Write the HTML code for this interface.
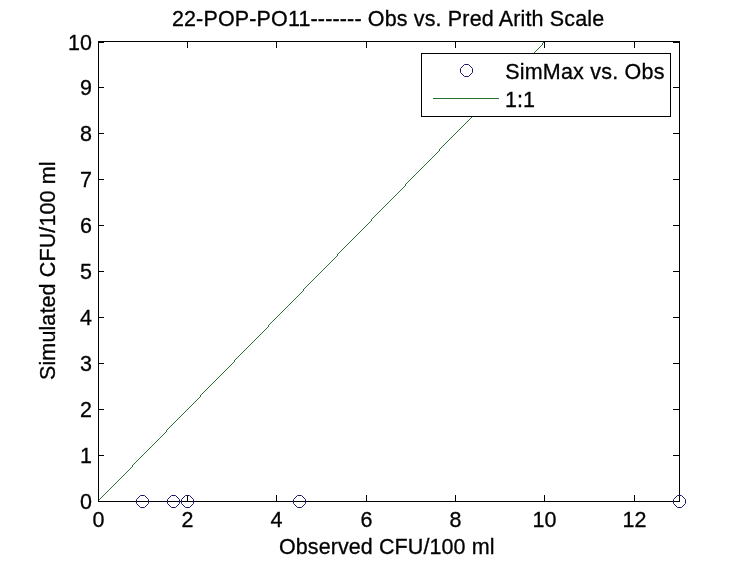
<!DOCTYPE html>
<html><head><meta charset="utf-8"><title>22-POP-PO11 Obs vs. Pred Arith Scale</title>
<style>html,body{margin:0;padding:0;background:#fff;overflow:hidden}svg{display:block}text{font-family:"Liberation Sans",Arial,Helvetica,sans-serif;font-size:21.5px;fill:#000;stroke:#000;stroke-width:0.3px}.ax{stroke:#000;stroke-width:1;fill:none;shape-rendering:crispEdges}.gl{stroke:#2a7030;stroke-width:1;fill:none;shape-rendering:crispEdges}.dg{stroke:#2b7033;stroke-width:1;fill:none;shape-rendering:crispEdges}.mk{stroke:#17176f;stroke-width:1;fill:none}</style></head><body>
<svg width="750" height="563" viewBox="0 0 750 563">
<rect x="0" y="0" width="750" height="563" fill="#ffffff"/>
<path class="dg" d="M98 501.5h1M98 500.5h1M99 499.5h1M100 498.5h1M101 497.5h1M102 496.5h1M103 495.5h1M104 494.5h1M105 493.5h1M106 492.5h1M107 491.5h1M108 490.5h1M109 489.5h1M110 488.5h1M111 487.5h1M112 486.5h1M113 485.5h1M114 484.5h1M115 483.5h1M116 482.5h1M117 481.5h1M118 480.5h1M119 479.5h1M120 478.5h1M121 477.5h1M122 476.5h1M123 475.5h1M124 474.5h1M125 473.5h1M126 472.5h1M127 471.5h1M128 470.5h1M129 469.5h1M130 468.5h1M131 467.5h1M132 466.5h1M132 465.5h1M133 464.5h1M134 463.5h1M135 462.5h1M136 461.5h1M137 460.5h1M138 459.5h1M139 458.5h1M140 457.5h1M141 456.5h1M142 455.5h1M143 454.5h1M144 453.5h1M145 452.5h1M146 451.5h1M147 450.5h1M148 449.5h1M149 448.5h1M150 447.5h1M151 446.5h1M152 445.5h1M153 444.5h1M154 443.5h1M155 442.5h1M156 441.5h1M157 440.5h1M158 439.5h1M159 438.5h1M160 437.5h1M161 436.5h1M162 435.5h1M163 434.5h1M164 433.5h1M165 432.5h1M166 431.5h1M166 430.5h1M167 429.5h1M168 428.5h1M169 427.5h1M170 426.5h1M171 425.5h1M172 424.5h1M173 423.5h1M174 422.5h1M175 421.5h1M176 420.5h1M177 419.5h1M178 418.5h1M179 417.5h1M180 416.5h1M181 415.5h1M182 414.5h1M183 413.5h1M184 412.5h1M185 411.5h1M186 410.5h1M187 409.5h1M188 408.5h1M189 407.5h1M190 406.5h1M191 405.5h1M192 404.5h1M193 403.5h1M194 402.5h1M195 401.5h1M196 400.5h1M197 399.5h1M198 398.5h1M199 397.5h1M200 396.5h1M200 395.5h1M201 394.5h1M202 393.5h1M203 392.5h1M204 391.5h1M205 390.5h1M206 389.5h1M207 388.5h1M208 387.5h1M209 386.5h1M210 385.5h1M211 384.5h1M212 383.5h1M213 382.5h1M214 381.5h1M215 380.5h1M216 379.5h1M217 378.5h1M218 377.5h1M219 376.5h1M220 375.5h1M221 374.5h1M222 373.5h1M223 372.5h1M224 371.5h1M225 370.5h1M226 369.5h1M227 368.5h1M228 367.5h1M229 366.5h1M230 365.5h1M231 364.5h1M232 363.5h1M233 362.5h1M234 361.5h1M234 360.5h1M235 359.5h1M236 358.5h1M237 357.5h1M238 356.5h1M239 355.5h1M240 354.5h1M241 353.5h1M242 352.5h1M243 351.5h1M244 350.5h1M245 349.5h1M246 348.5h1M247 347.5h1M248 346.5h1M249 345.5h1M250 344.5h1M251 343.5h1M252 342.5h1M253 341.5h1M254 340.5h1M255 339.5h1M256 338.5h1M257 337.5h1M258 336.5h1M259 335.5h1M260 334.5h1M261 333.5h1M262 332.5h1M263 331.5h1M264 330.5h1M265 329.5h1M266 328.5h1M267 327.5h1M268 326.5h1M268 325.5h1M269 324.5h1M270 323.5h1M271 322.5h1M272 321.5h1M273 320.5h1M274 319.5h1M275 318.5h1M276 317.5h1M277 316.5h1M278 315.5h1M279 314.5h1M280 313.5h1M281 312.5h1M282 311.5h1M283 310.5h1M284 309.5h1M285 308.5h1M286 307.5h1M287 306.5h1M288 305.5h1M289 304.5h1M290 303.5h1M291 302.5h1M292 301.5h1M293 300.5h1M294 299.5h1M295 298.5h1M296 297.5h1M297 296.5h1M298 295.5h1M299 294.5h1M300 293.5h1M301 292.5h1M302 291.5h1M303 290.5h1M303 289.5h1M304 288.5h1M305 287.5h1M306 286.5h1M307 285.5h1M308 284.5h1M309 283.5h1M310 282.5h1M311 281.5h1M312 280.5h1M313 279.5h1M314 278.5h1M315 277.5h1M316 276.5h1M317 275.5h1M318 274.5h1M319 273.5h1M320 272.5h1M321 271.5h1M322 270.5h1M323 269.5h1M324 268.5h1M325 267.5h1M326 266.5h1M327 265.5h1M328 264.5h1M329 263.5h1M330 262.5h1M331 261.5h1M332 260.5h1M333 259.5h1M334 258.5h1M335 257.5h1M336 256.5h1M337 255.5h1M337 254.5h1M338 253.5h1M339 252.5h1M340 251.5h1M341 250.5h1M342 249.5h1M343 248.5h1M344 247.5h1M345 246.5h1M346 245.5h1M347 244.5h1M348 243.5h1M349 242.5h1M350 241.5h1M351 240.5h1M352 239.5h1M353 238.5h1M354 237.5h1M355 236.5h1M356 235.5h1M357 234.5h1M358 233.5h1M359 232.5h1M360 231.5h1M361 230.5h1M362 229.5h1M363 228.5h1M364 227.5h1M365 226.5h1M366 225.5h1M367 224.5h1M368 223.5h1M369 222.5h1M370 221.5h1M371 220.5h1M371 219.5h1M372 218.5h1M373 217.5h1M374 216.5h1M375 215.5h1M376 214.5h1M377 213.5h1M378 212.5h1M379 211.5h1M380 210.5h1M381 209.5h1M382 208.5h1M383 207.5h1M384 206.5h1M385 205.5h1M386 204.5h1M387 203.5h1M388 202.5h1M389 201.5h1M390 200.5h1M391 199.5h1M392 198.5h1M393 197.5h1M394 196.5h1M395 195.5h1M396 194.5h1M397 193.5h1M398 192.5h1M399 191.5h1M400 190.5h1M401 189.5h1M402 188.5h1M403 187.5h1M404 186.5h1M405 185.5h1M405 184.5h1M406 183.5h1M407 182.5h1M408 181.5h1M409 180.5h1M410 179.5h1M411 178.5h1M412 177.5h1M413 176.5h1M414 175.5h1M415 174.5h1M416 173.5h1M417 172.5h1M418 171.5h1M419 170.5h1M420 169.5h1M421 168.5h1M422 167.5h1M423 166.5h1M424 165.5h1M425 164.5h1M426 163.5h1M427 162.5h1M428 161.5h1M429 160.5h1M430 159.5h1M431 158.5h1M432 157.5h1M433 156.5h1M434 155.5h1M435 154.5h1M436 153.5h1M437 152.5h1M438 151.5h1M439 150.5h1M439 149.5h1M440 148.5h1M441 147.5h1M442 146.5h1M443 145.5h1M444 144.5h1M445 143.5h1M446 142.5h1M447 141.5h1M448 140.5h1M449 139.5h1M450 138.5h1M451 137.5h1M452 136.5h1M453 135.5h1M454 134.5h1M455 133.5h1M456 132.5h1M457 131.5h1M458 130.5h1M459 129.5h1M460 128.5h1M461 127.5h1M462 126.5h1M463 125.5h1M464 124.5h1M465 123.5h1M466 122.5h1M467 121.5h1M468 120.5h1M469 119.5h1M470 118.5h1M471 117.5h1M472 116.5h1M473 115.5h1M473 114.5h1M474 113.5h1M475 112.5h1M476 111.5h1M477 110.5h1M478 109.5h1M479 108.5h1M480 107.5h1M481 106.5h1M482 105.5h1M483 104.5h1M484 103.5h1M485 102.5h1M486 101.5h1M487 100.5h1M488 99.5h1M489 98.5h1M490 97.5h1M491 96.5h1M492 95.5h1M493 94.5h1M494 93.5h1M495 92.5h1M496 91.5h1M497 90.5h1M498 89.5h1M499 88.5h1M500 87.5h1M501 86.5h1M502 85.5h1M503 84.5h1M504 83.5h1M505 82.5h1M506 81.5h1M507 80.5h1M508 79.5h1M508 78.5h1M509 77.5h1M510 76.5h1M511 75.5h1M512 74.5h1M513 73.5h1M514 72.5h1M515 71.5h1M516 70.5h1M517 69.5h1M518 68.5h1M519 67.5h1M520 66.5h1M521 65.5h1M522 64.5h1M523 63.5h1M524 62.5h1M525 61.5h1M526 60.5h1M527 59.5h1M528 58.5h1M529 57.5h1M530 56.5h1M531 55.5h1M532 54.5h1M533 53.5h1M534 52.5h1M535 51.5h1M536 50.5h1M537 49.5h1M538 48.5h1M539 47.5h1M540 46.5h1M541 45.5h1M542 44.5h1M542 43.5h1M543 42.5h1M544 41.5h1"/>
<rect class="ax" x="98.5" y="41.5" width="581" height="460"/>
<text transform="translate(98.50,527.10) scale(1,1.055)" text-anchor="middle">0</text>
<line class="ax" x1="187.5" y1="495" x2="187.5" y2="501"/>
<line class="ax" x1="187.5" y1="42" x2="187.5" y2="48"/>
<text transform="translate(187.50,527.10) scale(1,1.055)" text-anchor="middle">2</text>
<line class="ax" x1="276.5" y1="495" x2="276.5" y2="501"/>
<line class="ax" x1="276.5" y1="42" x2="276.5" y2="48"/>
<text transform="translate(276.50,527.10) scale(1,1.055)" text-anchor="middle">4</text>
<line class="ax" x1="366.5" y1="495" x2="366.5" y2="501"/>
<line class="ax" x1="366.5" y1="42" x2="366.5" y2="48"/>
<text transform="translate(366.50,527.10) scale(1,1.055)" text-anchor="middle">6</text>
<line class="ax" x1="455.5" y1="495" x2="455.5" y2="501"/>
<line class="ax" x1="455.5" y1="42" x2="455.5" y2="48"/>
<text transform="translate(455.50,527.10) scale(1,1.055)" text-anchor="middle">8</text>
<line class="ax" x1="544.5" y1="495" x2="544.5" y2="501"/>
<line class="ax" x1="544.5" y1="42" x2="544.5" y2="48"/>
<text transform="translate(544.50,527.10) scale(1,1.055)" text-anchor="middle">10</text>
<line class="ax" x1="634.5" y1="495" x2="634.5" y2="501"/>
<line class="ax" x1="634.5" y1="42" x2="634.5" y2="48"/>
<text transform="translate(634.50,527.10) scale(1,1.055)" text-anchor="middle">12</text>
<text transform="translate(92.00,509.00) scale(1,1.055)" text-anchor="end">0</text>
<line class="ax" x1="99" y1="455.5" x2="104" y2="455.5"/>
<line class="ax" x1="673" y1="455.5" x2="679" y2="455.5"/>
<text transform="translate(92.00,463.00) scale(1,1.055)" text-anchor="end">1</text>
<line class="ax" x1="99" y1="409.5" x2="104" y2="409.5"/>
<line class="ax" x1="673" y1="409.5" x2="679" y2="409.5"/>
<text transform="translate(92.00,417.00) scale(1,1.055)" text-anchor="end">2</text>
<line class="ax" x1="99" y1="363.5" x2="104" y2="363.5"/>
<line class="ax" x1="673" y1="363.5" x2="679" y2="363.5"/>
<text transform="translate(92.00,371.00) scale(1,1.055)" text-anchor="end">3</text>
<line class="ax" x1="99" y1="317.5" x2="104" y2="317.5"/>
<line class="ax" x1="673" y1="317.5" x2="679" y2="317.5"/>
<text transform="translate(92.00,325.00) scale(1,1.055)" text-anchor="end">4</text>
<line class="ax" x1="99" y1="271.5" x2="104" y2="271.5"/>
<line class="ax" x1="673" y1="271.5" x2="679" y2="271.5"/>
<text transform="translate(92.00,279.00) scale(1,1.055)" text-anchor="end">5</text>
<line class="ax" x1="99" y1="225.5" x2="104" y2="225.5"/>
<line class="ax" x1="673" y1="225.5" x2="679" y2="225.5"/>
<text transform="translate(92.00,233.00) scale(1,1.055)" text-anchor="end">6</text>
<line class="ax" x1="99" y1="179.5" x2="104" y2="179.5"/>
<line class="ax" x1="673" y1="179.5" x2="679" y2="179.5"/>
<text transform="translate(92.00,187.00) scale(1,1.055)" text-anchor="end">7</text>
<line class="ax" x1="99" y1="133.5" x2="104" y2="133.5"/>
<line class="ax" x1="673" y1="133.5" x2="679" y2="133.5"/>
<text transform="translate(92.00,141.00) scale(1,1.055)" text-anchor="end">8</text>
<line class="ax" x1="99" y1="87.5" x2="104" y2="87.5"/>
<line class="ax" x1="673" y1="87.5" x2="679" y2="87.5"/>
<text transform="translate(92.00,95.00) scale(1,1.055)" text-anchor="end">9</text>
<line class="ax" x1="99" y1="42.5" x2="104" y2="42.5"/>
<line class="ax" x1="673" y1="42.5" x2="679" y2="42.5"/>
<text transform="translate(92.00,50.00) scale(1,1.055)" text-anchor="end">10</text>
<polygon class="mk" points="140.5,495.5 144.5,495.5 148.5,499.5 148.5,503.5 144.5,507.5 140.5,507.5 136.5,503.5 136.5,499.5"/>
<polygon class="mk" points="171.5,495.5 175.5,495.5 179.5,499.5 179.5,503.5 175.5,507.5 171.5,507.5 167.5,503.5 167.5,499.5"/>
<polygon class="mk" points="185.5,495.5 189.5,495.5 193.5,499.5 193.5,503.5 189.5,507.5 185.5,507.5 181.5,503.5 181.5,499.5"/>
<polygon class="mk" points="297.5,495.5 301.5,495.5 305.5,499.5 305.5,503.5 301.5,507.5 297.5,507.5 293.5,503.5 293.5,499.5"/>
<polygon class="mk" points="677.5,495.5 681.5,495.5 685.5,499.5 685.5,503.5 681.5,507.5 677.5,507.5 673.5,503.5 673.5,499.5"/>
<rect class="ax" x="421.5" y="53.5" width="249" height="63" style="fill:#fff"/>
<polygon class="mk" points="464.5,64.5 468.5,64.5 472.5,68.5 472.5,72.5 468.5,76.5 464.5,76.5 460.5,72.5 460.5,68.5"/>
<line class="gl" x1="433" y1="98.5" x2="499" y2="98.5"/>
<text transform="translate(505.20,78.80) scale(1,1.055)" textLength="159.2" lengthAdjust="spacing">SimMax vs. Obs</text>
<text transform="translate(505.00,106.80) scale(1,1.055)">1:1</text>
<text transform="translate(171.90,26.40) scale(1,1.055)" textLength="432.3" lengthAdjust="spacing">22-POP-PO11------- Obs vs. Pred Arith Scale</text>
<text transform="translate(279.00,554.40) scale(1,1.055)" textLength="215.5" lengthAdjust="spacing">Observed CFU/100 ml</text>
<text transform="translate(55.30,380.00) rotate(-90) scale(1,1.055)" textLength="218.5" lengthAdjust="spacing">Simulated CFU/100 ml</text>
</svg></body></html>
